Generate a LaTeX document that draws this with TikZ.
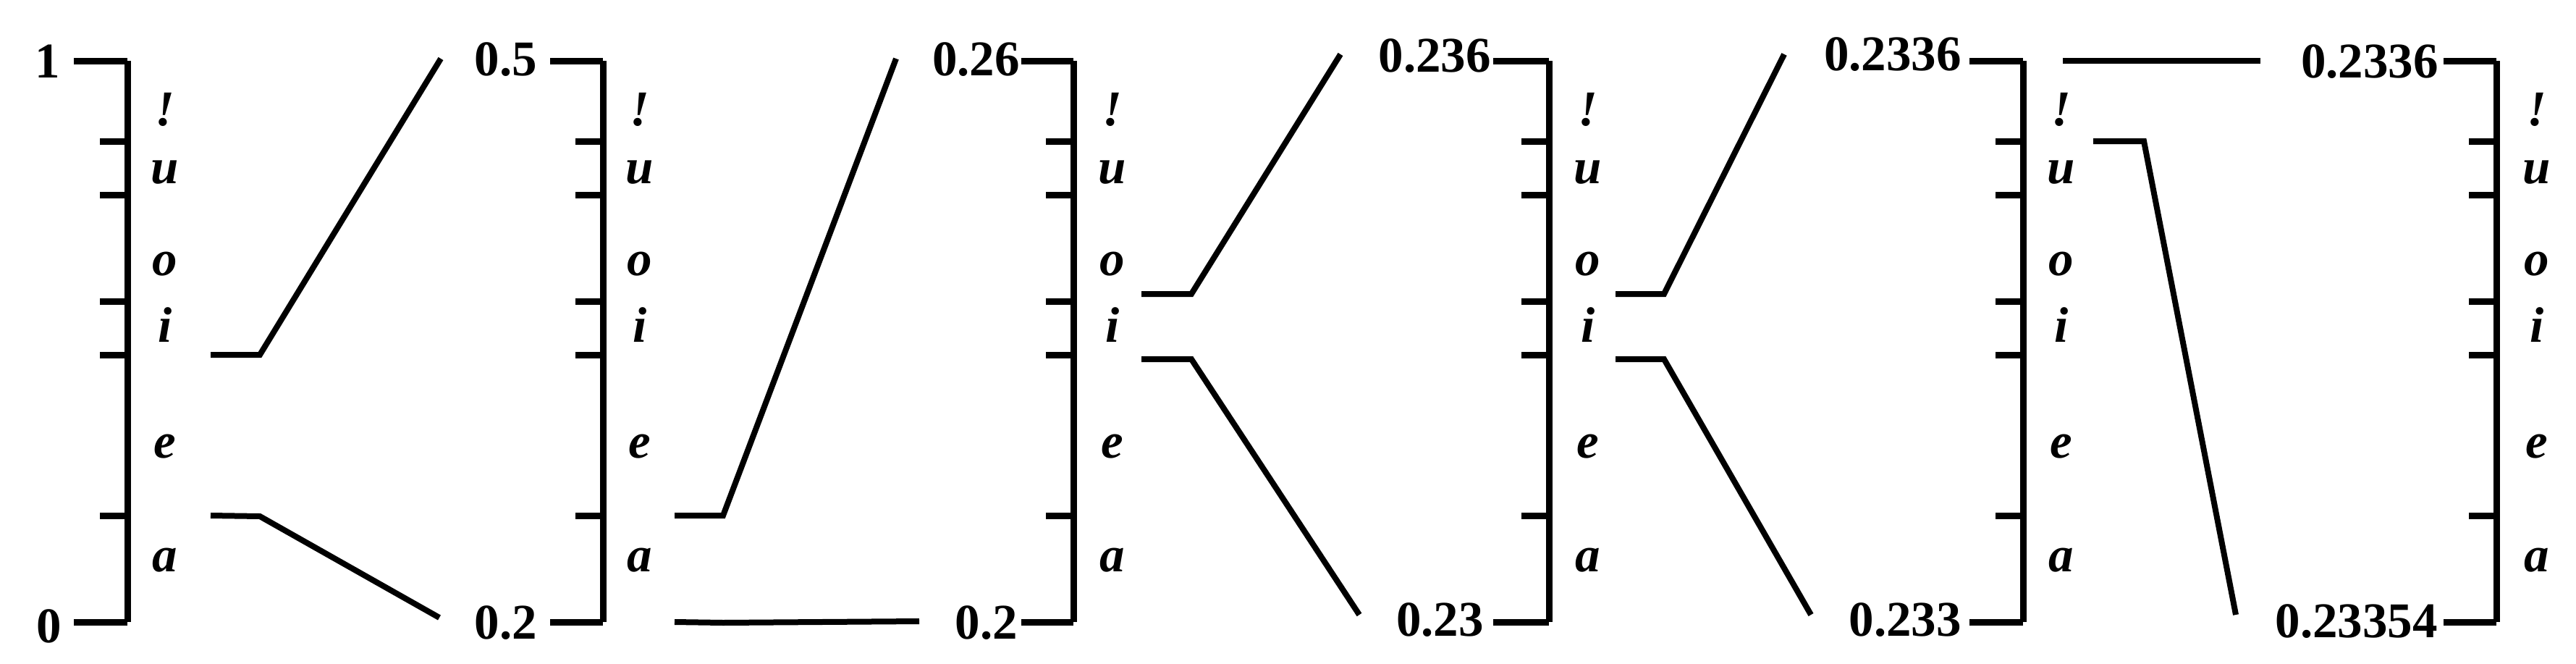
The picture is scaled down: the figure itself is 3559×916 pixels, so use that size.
\documentclass[tikz,border=0pt]{standalone}
\usepackage{fontspec}
\setmainfont{Liberation Serif}
\begin{document}
\begin{tikzpicture}[x=1pt,y=-1pt,
  rule/.style={line width=9pt},
  link/.style={line width=8pt},
  num/.style={font=\fontsize{69}{80}\selectfont\bfseries, inner sep=0pt, anchor=base east},
  sym/.style={font=\fontsize{69}{80}\selectfont\bfseries\itshape, inner sep=0pt, anchor=base}]
\useasboundingbox (0,0) rectangle (3559,916);
\fill[white] (0,0) rectangle (3559,916);

\newcommand\intbar[4]{%
  \coordinate (#1t) at (#2,84); \coordinate (#1b) at (#2,859);
  \coordinate (#1tl) at (#3,84); \coordinate (#1bl) at (#3,859);
  \draw[rule] (#1tl) -- (#1t);
  \draw[rule] (#1bl) -- (#1b);
  \draw[rule] (#1t) -- (#1b);
  \foreach \yy/\nm in {195/u,269/o,416/i,490/e,712/a} {
    \coordinate (#1k\nm) at ({#2-38},\yy);
    \coordinate (#1r\nm) at (#2,\yy);
    \draw[rule] (#1k\nm) -- (#1r\nm);
  }
  \node[sym] (#1s1) at (#4,173) {!};
  \node[sym] (#1s2) at (#4,253) {u};
  \node[sym] (#1s3) at (#4,380) {o};
  \node[sym] (#1s4) at (#4,472) {i};
  \node[sym] (#1s5) at (#4,632) {e};
  \node[sym] (#1s6) at (#4,789) {a};
}

\intbar{A}{176}{102}{228}
\intbar{B}{833}{760}{884}
\intbar{C}{1483}{1411}{1537}
\intbar{D}{2140}{2063}{2194}
\intbar{E}{2795}{2721}{2848}
\intbar{F}{3449}{3376}{3505}

% value labels
\node[num] (n1t) at (83,107) {1};
\node[num] (n1b) at (85,887) {0};
\node[num] (n2t) at (742,104) {0.5};
\node[num] (n2b) at (742,882) {0.2};
\node[num] (n3t) at (1409,104) {0.26};
\node[num] (n3b) at (1406,882) {0.2};
\node[num] (n4t) at (2060,99) {0.236};
\node[num] (n4b) at (2050,878) {0.23};
\node[num] (n5t) at (2710,97) {0.2336};
\node[num] (n5b) at (2710,878) {0.233};
\node[num] (n6t) at (3369,107) {0.2336};
\node[num] (n6b) at (3368,880) {0.23354};

% connectors
\coordinate (p1s) at (291,490); \coordinate (p1k) at (359,490); \coordinate (p1e) at (609,81);
\coordinate (q1s) at (291,712); \coordinate (q1k) at (359,713); \coordinate (q1e) at (607,853);
\draw[link] (p1s) -- (p1k) -- (p1e);
\draw[link] (q1s) -- (q1k) -- (q1e);

\coordinate (p2s) at (932,712); \coordinate (p2k) at (999,712); \coordinate (p2e) at (1238,81);
\coordinate (q2s) at (932,859); \coordinate (q2k) at (999,860); \coordinate (q2e) at (1270,858);
\draw[link] (p2s) -- (p2k) -- (p2e);
\draw[link] (q2s) -- (q2k) -- (q2e);

\coordinate (p3s) at (1577,406); \coordinate (p3k) at (1646,406); \coordinate (p3e) at (1852,75);
\coordinate (q3s) at (1577,496); \coordinate (q3k) at (1646,496); \coordinate (q3e) at (1878,849);
\draw[link] (p3s) -- (p3k) -- (p3e);
\draw[link] (q3s) -- (q3k) -- (q3e);

\coordinate (p4s) at (2232,406); \coordinate (p4k) at (2299,406); \coordinate (p4e) at (2465,75);
\coordinate (q4s) at (2232,496); \coordinate (q4k) at (2299,496); \coordinate (q4e) at (2502,849);
\draw[link] (p4s) -- (p4k) -- (p4e);
\draw[link] (q4s) -- (q4k) -- (q4e);

\coordinate (p5s) at (2850,84); \coordinate (p5e) at (3123,84);
\coordinate (q5s) at (2892,195); \coordinate (q5k) at (2962,195); \coordinate (q5e) at (3089,849);
\draw[link] (p5s) -- (p5e);
\draw[link] (q5s) -- (q5k) -- (q5e);
\end{tikzpicture}
\end{document}
